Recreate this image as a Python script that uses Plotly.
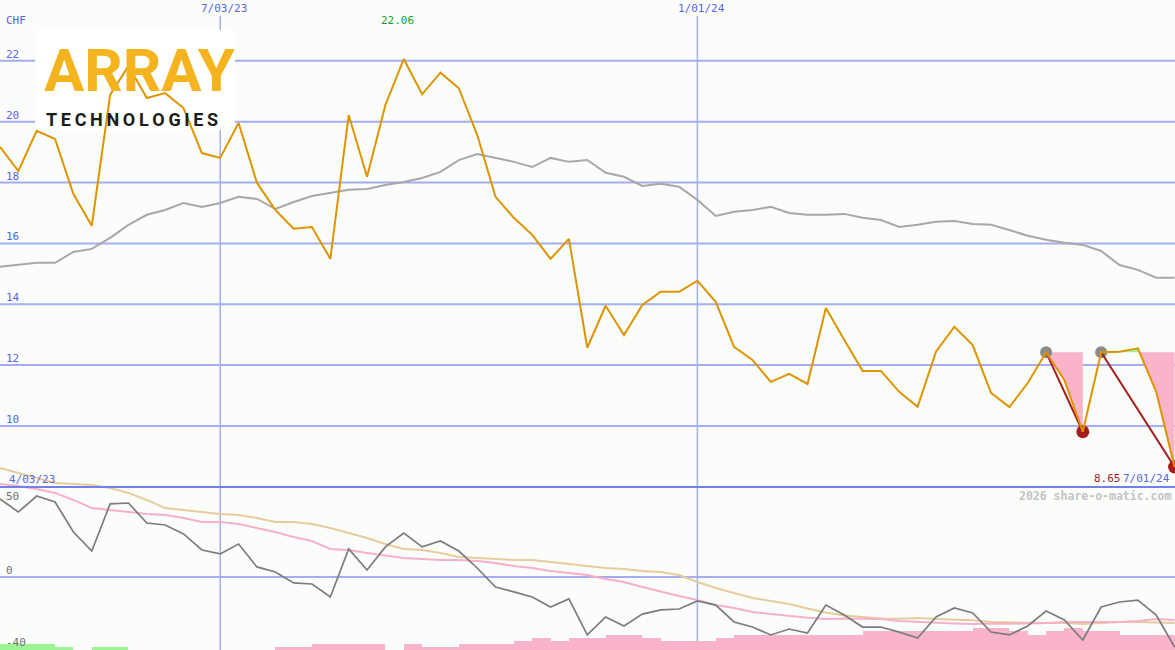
import pandas as pd
import plotly.graph_objects as go

# ---------------- data ----------------
dates = pd.date_range("2023-04-10", periods=65, freq="7D")

price = [19.17, 18.38, 19.70, 19.43, 17.62, 16.58, 20.88, 21.83, 20.78, 20.94,
         20.45, 18.97, 18.81, 19.96, 17.99, 17.10, 16.48, 16.54, 15.49, 20.22,
         18.19, 20.55, 22.06, 20.90, 21.61, 21.10, 19.57, 17.53, 16.84, 16.28,
         15.49, 16.15, 12.57, 13.95, 12.99, 13.98, 14.41, 14.41, 14.77, 14.08,
         12.60, 12.17, 11.45, 11.71, 11.38, 13.88, 12.83, 11.81, 11.81, 11.12,
         10.63, 12.44, 13.26, 12.66, 11.09, 10.62, 11.41, 12.42, 11.50, 9.81,
         12.42, 12.44, 12.55, 11.12, 8.65]

price_ma = [15.23, 15.29, 15.36, 15.36, 15.72, 15.82, 16.18, 16.61, 16.94, 17.10,
            17.33, 17.20, 17.33, 17.53, 17.46, 17.13, 17.36, 17.56, 17.66, 17.76,
            17.79, 17.92, 18.02, 18.15, 18.35, 18.74, 18.94, 18.81, 18.68, 18.51,
            18.81, 18.68, 18.74, 18.32, 18.19, 17.89, 17.96, 17.86, 17.43, 16.90,
            17.04, 17.10, 17.20, 17.00, 16.94, 16.94, 16.97, 16.84, 16.77, 16.54,
            16.61, 16.71, 16.74, 16.64, 16.61, 16.44, 16.25, 16.12, 16.02, 15.95,
            15.75, 15.29, 15.13, 14.87, 14.87]

osc = [43.3, 36.1, 45.0, 41.7, 25.0, 14.4, 40.6, 41.1, 30.0, 28.9,
       23.9, 15.0, 12.8, 18.3, 5.6, 2.8, -3.3, -3.9, -11.1, 15.6,
       3.9, 16.7, 24.4, 16.7, 20.0, 14.4, 5.0, -5.6, -8.3, -11.1,
       -16.7, -12.2, -32.2, -22.2, -27.2, -20.6, -18.3, -17.8, -13.3, -15.6,
       -25.0, -27.8, -32.2, -28.9, -31.1, -15.6, -21.1, -27.8, -27.8, -30.6,
       -33.9, -22.2, -17.2, -20.0, -30.6, -32.2, -27.2, -18.9, -23.9, -35.0,
       -16.7, -13.9, -12.8, -21.1, -38.9]

osc_fast = [51.7, 50.6, 48.9, 46.7, 42.8, 38.3, 37.2, 36.1, 35.0, 34.4,
            32.8, 30.6, 30.6, 29.4, 27.2, 25.0, 22.2, 20.0, 15.6, 15.0,
            13.3, 11.7, 10.5, 10.0, 9.4, 9.4, 8.9, 7.8, 6.1, 5.0,
            3.3, 2.2, 1.1, -1.1, -2.8, -5.6, -8.3, -10.6, -12.8, -15.6,
            -17.2, -19.4, -20.6, -21.7, -22.6, -23.3, -23.0, -23.2, -23.3, -24.4,
            -25.0, -25.6, -25.8, -26.1, -25.8, -26.0, -26.0, -25.6, -25.0, -25.0,
            -25.3, -25.0, -24.4, -23.3, -23.9]

osc_slow = [60.6, 57.8, 55.0, 52.2, 51.7, 51.1, 49.4, 46.7, 42.8, 38.3,
            37.2, 36.1, 35.0, 34.4, 32.8, 30.6, 30.6, 29.4, 27.2, 24.4,
            21.7, 18.3, 15.6, 15.0, 13.3, 11.1, 10.6, 10.0, 9.4, 9.4,
            8.3, 7.2, 6.1, 5.0, 4.4, 3.3, 2.8, 1.1, -2.8, -6.1,
            -8.9, -11.7, -13.3, -15.0, -17.5, -19.7, -21.4, -22.4, -23.0, -23.2,
            -22.8, -23.3, -23.5, -24.0, -25.0, -25.3, -25.6, -25.6, -25.6, -26.1,
            -25.6, -25.0, -25.0, -25.3, -25.6]

hist = [3.3, 3.3, 3.3, 1.7, 0, 1.7, 1.7, 0, 0, 0,
        0, 0, 0, 0, 0, -1.7, -1.7, -3.3, -3.3, -3.3,
        -3.3, 0, -3.3, -1.7, -1.7, -3.3, -3.3, -3.3, -5.0, -6.7,
        -5.0, -6.7, -6.7, -8.3, -8.3, -6.7, -5.0, -5.0, -5.0, -6.7,
        -8.3, -8.3, -8.3, -8.3, -8.3, -8.3, -8.3, -10.5, -10.5, -10.5,
        -10.5, -10.5, -10.5, -12.2, -12.2, -10.5, -8.3, -10.5, -12.2, -10.5,
        -10.5, -8.3, -8.3, -8.3, 0]

drawdowns = [(57, 59), (60, 64)]          # (start index, trough index)

upper_ticks = [10, 12, 14, 16, 18, 20, 22]
lower_ticks = [50, 0, -40]
vline_dates = ["2023-07-03", "2024-01-01"]
vline_labels = ["7/03/23", "1/01/24"]
start_label = "4/03/23"
end_label = "7/01/24"
currency = "CHF"
credit = "2026 share-o-matic.com"
logo_name = "ARRAY"
logo_sub = "TECHNOLOGIES"

# ---------------- style ----------------
W, H = 1175, 650
BG = "#fafdfa"
GRID = "#a3adf0"
SEP = "#7280ee"
BLUE = "#5a64e6"
ORANGE = "#de9400"
GRAYMA = "#a8a8a8"
OSC = "#7c7c7c"
PINKL = "#f8b0c8"
TAN = "#e6cc9c"
PINKF = "#f9b4c9"
GREENF = "#a4f29a"
DRED = "#a41c1c"
MONO = "DejaVu Sans Mono"
LOGO_FONT = "Roboto, Liberation Sans, sans-serif"
UP_RANGE = [2.636, 24.0]
LO_RANGE = [-40.56, 320.56]


def px(x):
    return x / W


def py(y):
    return 1 - y / H


fig = go.Figure()

# lower panel: histogram bars
bar_colors = ["#9cf592" if v > 0 else PINKF for v in hist]
fig.add_trace(go.Bar(
    x=dates, y=[abs(v) for v in hist], base=LO_RANGE[0],
    width=7 * 86400000, offset=0, marker=dict(color=bar_colors, line_width=0),
    yaxis="y2", hoverinfo="skip"))
fig.add_trace(go.Scatter(x=dates, y=osc_slow, mode="lines", yaxis="y2",
                         line=dict(color=TAN, width=2)))
fig.add_trace(go.Scatter(x=dates, y=osc_fast, mode="lines", yaxis="y2",
                         line=dict(color=PINKL, width=2)))
fig.add_trace(go.Scatter(x=dates, y=osc, mode="lines", yaxis="y2",
                         line=dict(color=OSC, width=1.7)))

# upper panel
fig.add_trace(go.Scatter(x=dates, y=price_ma, mode="lines",
                         line=dict(color=GRAYMA, width=2)))


def fill_path(i0, i1, lvl, fn):
    xs, ys = [], []
    for j in range(i0, i1 + 1):
        xs.append(dates[j])
        ys.append(fn(price[j], lvl))
        if j < i1:
            a, b = price[j] - lvl, price[j + 1] - lvl
            if a * b < 0:
                t = (lvl - price[j]) / (price[j + 1] - price[j])
                xs.append(dates[j] + (dates[j + 1] - dates[j]) * t)
                ys.append(lvl)
    xs += [dates[i1], dates[i0]]
    ys += [lvl, lvl]
    return xs, ys


for i0, i1 in drawdowns:
    lvl = price[i0]
    xs, ys = fill_path(i0, i1, lvl, min)
    fig.add_trace(go.Scatter(x=xs, y=ys, mode="lines", fill="toself",
                             fillcolor=PINKF, line=dict(width=0)))
    xs, ys = fill_path(i0, i1, lvl, max)
    fig.add_trace(go.Scatter(x=xs, y=ys, mode="lines", fill="toself",
                             fillcolor=GREENF, line=dict(width=0)))

for i0, i1 in drawdowns:
    fig.add_trace(go.Scatter(x=[dates[i0]], y=[price[i0]], mode="markers",
                             marker=dict(color="#8a8a8a", size=12)))
    fig.add_trace(go.Scatter(x=[dates[i1]], y=[price[i1]], mode="markers",
                             marker=dict(color=DRED, size=13)))
    fig.add_trace(go.Scatter(x=[dates[i0], dates[i1]], y=[price[i0], price[i1]],
                             mode="lines", line=dict(color=DRED, width=2)))

fig.add_trace(go.Scatter(x=dates, y=price, mode="lines",
                         line=dict(color=ORANGE, width=2)))

# ---------------- shapes ----------------
shapes = []
for t in upper_ticks:
    shapes.append(dict(type="line", xref="paper", x0=0, x1=1, yref="y", y0=t, y1=t,
                       line=dict(color=GRID, width=2), layer="below"))
shapes.append(dict(type="line", xref="paper", x0=0, x1=1, yref="y2", y0=0, y1=0,
                   line=dict(color=GRID, width=2), layer="below"))
for d in vline_dates:
    shapes.append(dict(type="line", xref="x", x0=d, x1=d, yref="paper", y0=0, y1=py(16),
                       line=dict(color=GRID, width=1.5), layer="below"))
# logo backdrop
shapes.append(dict(type="rect", xref="paper", yref="paper", x0=px(35), x1=px(235),
                   y0=py(130), y1=py(30), fillcolor="#ffffff", line_width=0, layer="below"))
# panel separator
shapes.append(dict(type="line", xref="paper", x0=0, x1=1, yref="y2", y0=lower_ticks[0],
                   y1=lower_ticks[0], line=dict(color=SEP, width=2.2), layer="above"))

# ---------------- annotations ----------------
ann = []


def txt(text, x, y, color, size=11, xanchor="left", bold=False, family=MONO, **kw):
    a = dict(text=text, x=x, y=y, showarrow=False, xanchor=xanchor, yanchor="middle",
             font=dict(family=family, size=size, color=color,
                       weight="bold" if bold else "normal"))
    a.setdefault("xref", "paper")
    a.setdefault("yref", "paper")
    a.update(kw)
    ann.append(a)


txt(currency, px(4), py(20), BLUE)
for t in upper_ticks:
    ann.append(dict(text=str(t), x=px(4), y=t, xref="paper", yref="y", showarrow=False,
                    xanchor="left", yanchor="bottom", yshift=-2,
                    font=dict(family=MONO, size=11, color=BLUE)))
ann.append(dict(text=str(lower_ticks[0]), x=px(4), y=lower_ticks[0], xref="paper", yref="y2",
                showarrow=False, xanchor="left", yanchor="top", yshift=-1,
                font=dict(family=MONO, size=11, color="#707070")))
for t in lower_ticks[1:]:
    ann.append(dict(text=str(t), x=px(4), y=t, xref="paper", yref="y2", showarrow=False,
                    xanchor="left", yanchor="bottom", yshift=-2,
                    font=dict(family=MONO, size=11, color="#707070")))
for d, lab in zip(vline_dates, vline_labels):
    ann.append(dict(text=lab, x=d, y=py(8), xref="x", yref="paper", showarrow=False,
                    xanchor="center", yanchor="middle", xshift=4,
                    font=dict(family=MONO, size=11, color=BLUE)))
imax = price.index(max(price))
ann.append(dict(text=f"{price[imax]:.2f}", x=dates[imax], y=py(21), xref="x", yref="paper",
                showarrow=False, xanchor="center", yanchor="middle", xshift=-6,
                font=dict(family=MONO, size=11, color="#1e9e1e")))
txt(start_label, px(7), py(479), BLUE)
txt(end_label, px(1172), py(478), BLUE, xanchor="right")
txt(f"{price[-1]:.2f}", px(1123), py(478), DRED, xanchor="right")
txt(credit, px(1173), py(496), "#c4c4c4", size=11.5, xanchor="right", bold=True)

# logo
txt(logo_name, px(140), py(70), "#f5b41e", size=60, xanchor="center", bold=True,
    family=LOGO_FONT)
txt("\u2009".join(logo_sub), px(132), py(119), "#1c1c1c", size=18, xanchor="center",
    bold=True, family=LOGO_FONT)

fig.update_layout(
    width=W, height=H, margin=dict(l=0, r=0, t=0, b=0),
    paper_bgcolor=BG, plot_bgcolor=BG, showlegend=False, bargap=0,
    xaxis=dict(range=["2023-04-10", "2024-07-01 04:00"], visible=False, fixedrange=True),
    yaxis=dict(range=UP_RANGE, visible=False, domain=[0, 1]),
    yaxis2=dict(range=LO_RANGE, visible=False, overlaying="y"),
    shapes=shapes, annotations=ann,
)

fig.write_html("out.html", config={"displayModeBar": False},
               post_script="document.body.style.margin='0';document.body.style.overflow='hidden';")
